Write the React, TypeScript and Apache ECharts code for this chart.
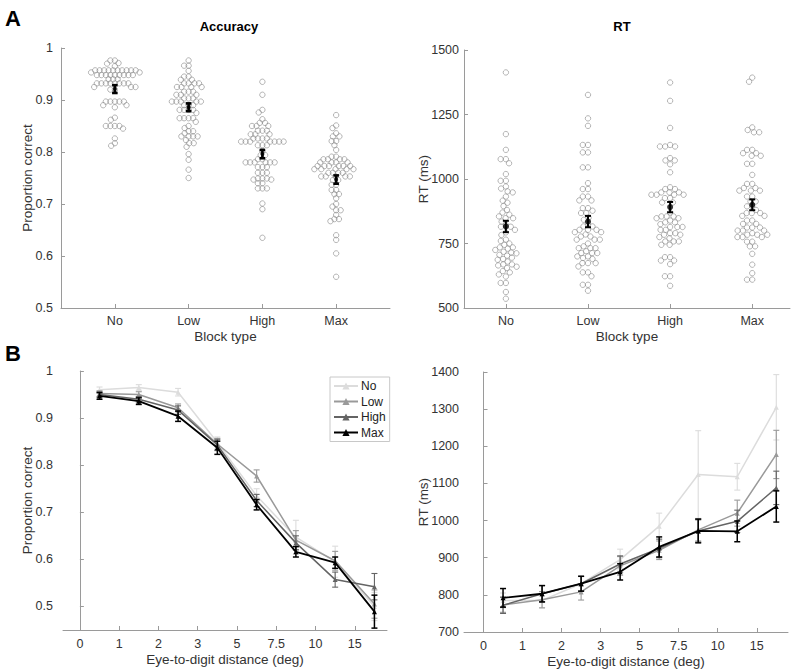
import React, { useEffect, useRef } from "react";
import * as echarts from "echarts";

// ---------- Data ----------
const blockTypes = ["No", "Low", "High", "Max"];

// Panel A: per-participant accuracy (proportion correct)
const accNo = [0.976, 0.976, 0.971, 0.97, 0.965, 0.957, 0.957, 0.957, 0.957, 0.957, 0.957, 0.957, 0.957, 0.957, 0.957,
  0.953, 0.953, 0.948, 0.948, 0.948, 0.948, 0.948, 0.948, 0.948, 0.948, 0.948, 0.94, 0.94, 0.94,
  0.932, 0.932, 0.932, 0.932, 0.932, 0.932, 0.932, 0.932, 0.925, 0.925, 0.925, 0.92, 0.92,
  0.897, 0.897, 0.897, 0.897, 0.897, 0.89, 0.89, 0.886, 0.866, 0.862, 0.85, 0.85, 0.85, 0.85, 0.845, 0.826, 0.817, 0.812];
const accLow = [0.976, 0.966, 0.966, 0.956, 0.945, 0.945, 0.939, 0.939, 0.932, 0.932, 0.932, 0.932,
  0.925, 0.925, 0.925, 0.925, 0.916, 0.916, 0.916, 0.91, 0.91, 0.91, 0.903, 0.903, 0.903,
  0.897, 0.897, 0.897, 0.897, 0.897, 0.89, 0.89, 0.89, 0.881, 0.881, 0.881, 0.881, 0.875,
  0.865, 0.865, 0.865, 0.865, 0.858, 0.85, 0.846, 0.84, 0.84, 0.836, 0.83, 0.83, 0.83, 0.83,
  0.823, 0.817, 0.817, 0.81, 0.796, 0.785, 0.766, 0.75];
const accHigh = [0.935, 0.91, 0.881, 0.876, 0.863, 0.856, 0.856, 0.85, 0.85, 0.85, 0.841, 0.841, 0.841,
  0.834, 0.834, 0.834, 0.826, 0.826, 0.826, 0.826, 0.82, 0.82, 0.82, 0.82, 0.82, 0.82, 0.82,
  0.813, 0.813, 0.813, 0.802, 0.794, 0.794, 0.786, 0.786, 0.78, 0.78, 0.78, 0.78, 0.78, 0.78,
  0.771, 0.771, 0.771, 0.76, 0.76, 0.76, 0.749, 0.749, 0.749, 0.747, 0.747, 0.74, 0.74,
  0.73, 0.73, 0.73, 0.701, 0.69, 0.635];
const accMax = [0.871, 0.851, 0.846, 0.836, 0.83, 0.83, 0.821, 0.821, 0.813, 0.804, 0.791, 0.791,
  0.786, 0.786, 0.786, 0.786, 0.78, 0.78, 0.78, 0.78, 0.773, 0.773, 0.773, 0.773, 0.773, 0.773,
  0.767, 0.767, 0.767, 0.767, 0.767, 0.76, 0.76, 0.76, 0.76, 0.753, 0.753, 0.753, 0.753, 0.753,
  0.746, 0.746, 0.737, 0.737, 0.727, 0.727, 0.719, 0.719, 0.711, 0.7, 0.695, 0.688, 0.688,
  0.679, 0.671, 0.671, 0.667, 0.64, 0.631, 0.605, 0.56];
const accMean = [0.921, 0.886, 0.796, 0.747];
const accSE = [0.0075, 0.0075, 0.008, 0.008];

// Panel A: per-participant RT (ms)
const rtNo = [1413, 1174, 1113, 1077, 1077, 1061, 1019, 993, 993, 971, 963, 952, 948, 932, 916, 908, 895,
  880, 870, 862, 855, 848, 848, 835, 822, 815, 815, 803, 793, 783, 765, 760, 750, 745, 735, 735, 730,
  725, 718, 715, 712, 706, 703, 695, 690, 687, 680, 669, 669, 665, 660, 655, 643, 638, 630, 622,
  597, 597, 562, 536];
const rtLow = [1326, 1235, 1206, 1132, 1132, 1103, 1103, 1045, 1045, 984, 961, 961, 932, 932, 917, 917,
  887, 887, 877, 868, 868, 850, 842, 826, 816, 816, 803, 803, 803, 794, 794, 785, 777, 777, 765, 765,
  765, 750, 739, 732, 732, 732, 720, 713, 713, 713, 700, 700, 694, 690, 674, 674, 674, 661, 638,
  638, 623, 590, 590, 567];
const rtHigh = [1374, 1303, 1198, 1132, 1126, 1126, 1126, 1081, 1072, 1072, 1057, 1026, 968, 961, 961,
  948, 948, 948, 939, 939, 939, 939, 926, 926, 909, 909, 870, 855, 855, 855, 848, 848, 839, 832, 832,
  825, 814, 814, 814, 803, 803, 790, 790, 784, 784, 775, 770, 758, 758, 758, 745, 745, 697, 697,
  684, 684, 670, 623, 623, 586];
const rtMax = [1393, 1377, 1200, 1190, 1181, 1181, 1113, 1113, 1100, 1100, 1090, 1090, 1059, 1059, 1016,
  981, 981, 965, 965, 955, 955, 955, 932, 932, 913, 913, 894, 894, 880, 868, 868, 868, 857, 857, 839,
  839, 826, 826, 812, 812, 812, 800, 800, 800, 790, 784, 784, 784, 775, 775, 775, 757, 757, 739,
  739, 710, 668, 635, 610, 610];
const rtMean = [816, 835, 891, 900];
const rtSE = [22, 22, 20, 21];

// Panel B: eye-to-digit distance bins
const distTickLabels = ["0", "1", "2", "3", "5", "7.5", "10", "15"];
const distBinPos = [0.5, 1.5, 2.5, 3.5, 4.5, 5.5, 6.5, 7.5];

const pcNo = [0.96, 0.965, 0.955, 0.848, 0.735, 0.647, 0.595, 0.5];
const pcNoErr = [0.006, 0.006, 0.008, 0.012, 0.015, 0.036, 0.033, 0.03];
const pcLow = [0.952, 0.95, 0.922, 0.845, 0.777, 0.641, 0.597, 0.505];
const pcLowErr = [0.006, 0.006, 0.008, 0.012, 0.013, 0.02, 0.02, 0.03];
const pcHigh = [0.95, 0.94, 0.917, 0.843, 0.725, 0.635, 0.557, 0.542];
const pcHighErr = [0.006, 0.006, 0.009, 0.012, 0.013, 0.015, 0.016, 0.028];
const pcMax = [0.947, 0.936, 0.904, 0.837, 0.716, 0.616, 0.593, 0.489];
const pcMaxErr = [0.007, 0.007, 0.011, 0.014, 0.011, 0.011, 0.012, 0.035];

const rtdNo = [785, 785, 830, 895, 985, 1124, 1118, 1305];
const rtdNoErr = [20, 20, 20, 28, 35, 118, 36, 88];
const rtdLow = [773, 787, 808, 878, 920, 975, 1020, 1178];
const rtdLowErr = [20, 22, 22, 25, 25, 30, 35, 65];
const rtdHigh = [772, 803, 830, 883, 925, 972, 998, 1088];
const rtdHighErr = [22, 22, 20, 22, 25, 30, 30, 45];
const rtdMax = [792, 803, 830, 862, 929, 972, 971, 1038];
const rtdMaxErr = [25, 22, 20, 22, 27, 32, 28, 42];

const seriesColors = ["#dcdcdc", "#9a9a9a", "#646464", "#000000"];

// ---------- Helpers ----------
const FONT = "Liberation Sans, Arial, Helvetica, sans-serif";

type Grid = { left: number; top: number; width: number; height: number };
const gA1: Grid = { left: 61, top: 48, width: 329, height: 260 };
const gA2: Grid = { left: 464, top: 50, width: 326, height: 258 };
const gB1: Grid = { left: 63, top: 371, width: 324, height: 259 };
const gB2: Grid = { left: 464, top: 372, width: 324, height: 260 };

const xA1 = { min: 0.27, max: 4.73 };
const xA2 = { min: 0.49, max: 4.46 };
const xB1 = { min: -0.43, max: 7.82 };
const xB2 = { min: -0.5, max: 7.8 };

// deterministic beeswarm layout (offsets computed in pixel space, returned in data units)
function swarm(values: number[], center: number, pxX: number, pxY: number, d: number): number[][] {
  const sorted = values.slice().sort((a, b) => b - a);
  const placed: { x: number; y: number }[] = [];
  const out: number[][] = [];
  for (const v of sorted) {
    const y = v * pxY;
    const cands = [0];
    for (const q of placed) {
      const dy = Math.abs(q.y - y);
      if (dy < d) {
        const dx = Math.sqrt(d * d - dy * dy);
        cands.push(q.x + dx, q.x - dx);
      }
    }
    cands.sort((a, b) => Math.abs(a) - Math.abs(b) || a - b);
    let best = 0;
    for (const c of cands) {
      if (placed.every((q) => (q.x - c) ** 2 + (q.y - y) ** 2 >= d * d - 1e-6)) {
        best = c;
        break;
      }
    }
    placed.push({ x: best, y });
    out.push([center + best / pxX, v]);
  }
  return out;
}

function errBarRender(color: string, lw: number, cap: number) {
  return (params: any, api: any) => {
    const x = api.value(0);
    const y = api.value(1);
    const e = api.value(2);
    const t = api.coord([x, y + e]);
    const b = api.coord([x, y - e]);
    const style = { stroke: color, lineWidth: lw, fill: null };
    return {
      type: "group",
      children: [
        { type: "line", shape: { x1: t[0], y1: t[1], x2: b[0], y2: b[1] }, style },
        { type: "line", shape: { x1: t[0] - cap, y1: t[1], x2: t[0] + cap, y2: t[1] }, style },
        { type: "line", shape: { x1: b[0] - cap, y1: b[1], x2: b[0] + cap, y2: b[1] }, style },
      ],
    };
  };
}

const axisLineStyle = { lineStyle: { color: "#9a9a9a", width: 1 } };
const labelStyle = { color: "#333", fontSize: 12.5, fontFamily: FONT };
const nameStyle = { color: "#333", fontSize: 13.5, fontFamily: FONT };
const plain = (v: number) => String(v);

export default function App() {
  const ref = useRef<HTMLDivElement>(null);

  useEffect(() => {
    document.body.style.margin = "0";
    if (!ref.current) return;
    const chart = echarts.init(ref.current, null, { renderer: "svg" });

    const accGroups = [accNo, accLow, accHigh, accMax];
    const rtGroups = [rtNo, rtLow, rtHigh, rtMax];
    const pxXA1 = gA1.width / (xA1.max - xA1.min);
    const pxYA1 = gA1.height / 0.5;
    const pxXA2 = gA2.width / (xA2.max - xA2.min);
    const pxYA2 = gA2.height / 1000;

    const accPts: number[][] = [];
    accGroups.forEach((g, i) => accPts.push(...swarm(g, i + 1, pxXA1, pxYA1, 4.5)));
    const rtPts: number[][] = [];
    rtGroups.forEach((g, i) => rtPts.push(...swarm(g, i + 1, pxXA2, pxYA2, 5.2)));

    const catX = (i: number) => i + 1;

    const pcSeries = [
      { name: "No", v: pcNo, e: pcNoErr },
      { name: "Low", v: pcLow, e: pcLowErr },
      { name: "High", v: pcHigh, e: pcHighErr },
      { name: "Max", v: pcMax, e: pcMaxErr },
    ];
    const rtdSeries = [
      { name: "No", v: rtdNo, e: rtdNoErr },
      { name: "Low", v: rtdLow, e: rtdLowErr },
      { name: "High", v: rtdHigh, e: rtdHighErr },
      { name: "Max", v: rtdMax, e: rtdMaxErr },
    ];

    const series: any[] = [
      {
        type: "scatter",
        xAxisIndex: 0,
        yAxisIndex: 0,
        symbol: "circle",
        symbolSize: 5.4,
        itemStyle: { color: "rgba(0,0,0,0)", borderColor: "#8a8a8a", borderWidth: 0.8 },
        data: accPts,
        silent: true,
        z: 2,
      },
      {
        type: "custom",
        xAxisIndex: 0,
        yAxisIndex: 0,
        renderItem: errBarRender("#000", 2.6, 2.8),
        data: accMean.map((m, i) => [catX(i), m, accSE[i]]),
        z: 5,
      },
      {
        type: "scatter",
        xAxisIndex: 0,
        yAxisIndex: 0,
        symbol: "circle",
        symbolSize: 4,
        itemStyle: { color: "#000" },
        data: accMean.map((m, i) => [catX(i), m]),
        z: 6,
      },
      {
        type: "scatter",
        xAxisIndex: 1,
        yAxisIndex: 1,
        symbol: "circle",
        symbolSize: 5.4,
        itemStyle: { color: "rgba(0,0,0,0)", borderColor: "#8a8a8a", borderWidth: 0.8 },
        data: rtPts,
        silent: true,
        z: 2,
      },
      {
        type: "custom",
        xAxisIndex: 1,
        yAxisIndex: 1,
        renderItem: errBarRender("#000", 2, 3),
        data: rtMean.map((m, i) => [catX(i), m, rtSE[i]]),
        z: 5,
      },
      {
        type: "scatter",
        xAxisIndex: 1,
        yAxisIndex: 1,
        symbol: "circle",
        symbolSize: 6,
        itemStyle: { color: "#000" },
        data: rtMean.map((m, i) => [catX(i), m]),
        z: 6,
      },
    ];

    const addLines = (defs: { name: string; v: number[]; e: number[] }[], axis: number) => {
      defs.forEach((s, k) => {
        const color = seriesColors[k];
        const lw = k === 3 ? 1.8 : 1.5;
        series.push({
          type: "custom",
          xAxisIndex: axis,
          yAxisIndex: axis,
          renderItem: errBarRender(color, k === 3 ? 1.5 : 1.1, 3),
          data: s.v.map((val, i) => [distBinPos[i], val, s.e[i]]),
          z: 3 + k,
        });
        series.push({
          type: "line",
          name: s.name,
          xAxisIndex: axis,
          yAxisIndex: axis,
          symbol: "triangle",
          symbolSize: 5,
          showSymbol: true,
          color,
          lineStyle: { color, width: lw },
          itemStyle: { color },
          data: s.v.map((val, i) => [distBinPos[i], val]),
          z: 3 + k,
        });
      });
    };
    addLines(pcSeries, 2);
    addLines(rtdSeries, 3);

    const catAxis = (idx: number, range: { min: number; max: number }) => ({
      type: "value",
      gridIndex: idx,
      min: range.min,
      max: range.max,
      name: "Block type",
      nameLocation: "middle",
      nameGap: 21,
      nameMoveOverlap: false,
      nameTextStyle: nameStyle,
      axisLine: axisLineStyle,
      axisTick: { inside: true, length: 4, lineStyle: { color: "#9a9a9a" }, customValues: [1, 2, 3, 4] },
      axisLabel: {
        ...labelStyle,
        margin: 6,
        customValues: [1, 2, 3, 4],
        formatter: (v: number) => blockTypes[Math.round(v) - 1] ?? "",
      },
      splitLine: { show: false },
    });

    const distAxis = (idx: number, range: { min: number; max: number }) => ({
      type: "value",
      gridIndex: idx,
      min: range.min,
      max: range.max,
      name: "Eye-to-digit distance (deg)",
      nameLocation: "middle",
      nameGap: 22,
      nameMoveOverlap: false,
      nameTextStyle: nameStyle,
      axisLine: axisLineStyle,
      axisTick: { inside: true, length: 4, lineStyle: { color: "#9a9a9a" }, customValues: [0, 1, 2, 3, 4, 5, 6, 7] },
      axisLabel: {
        ...labelStyle,
        margin: 7,
        customValues: [0, 1, 2, 3, 4, 5, 6, 7],
        formatter: (v: number) => distTickLabels[Math.round(v)] ?? "",
      },
      splitLine: { show: false },
    });

    const option: any = {
      animation: false,
      backgroundColor: "#ffffff",
      textStyle: { fontFamily: FONT },
      grid: [gA1, gA2, gB1, gB2].map((g) => ({ ...g, containLabel: false })),
      legend: {
        data: ["No", "Low", "High", "Max"],
        orient: "vertical",
        left: 330,
        top: 377,
        padding: [3, 4, 3, 3],
        itemGap: 3.5,
        itemWidth: 24,
        itemHeight: 9,
        borderColor: "#c8c8c8",
        borderWidth: 1,
        backgroundColor: "#fff",
        textStyle: { color: "#222", fontSize: 12, fontFamily: FONT, padding: [0, 0, 0, -2] },
        selectedMode: false,
      },
      xAxis: [catAxis(0, xA1), catAxis(1, xA2), distAxis(2, xB1), distAxis(3, xB2)],
      yAxis: [
        {
          type: "value",
          gridIndex: 0,
          min: 0.5,
          max: 1,
          interval: 0.1,
          name: "Proportion correct",
          nameLocation: "middle",
          nameGap: 27,
          nameMoveOverlap: false,
          nameTextStyle: nameStyle,
          axisLine: { show: true, ...axisLineStyle },
          axisTick: { show: true, inside: true, length: 4, lineStyle: { color: "#9a9a9a" } },
          axisLabel: { ...labelStyle, margin: 8, formatter: (v: number) => String(+v.toFixed(1)) },
          splitLine: { show: false },
        },
        {
          type: "value",
          gridIndex: 1,
          min: 500,
          max: 1500,
          interval: 250,
          name: "RT (ms)",
          nameLocation: "middle",
          nameGap: 34,
          nameMoveOverlap: false,
          nameTextStyle: nameStyle,
          axisLine: { show: true, ...axisLineStyle },
          axisTick: { show: true, inside: true, length: 4, lineStyle: { color: "#9a9a9a" } },
          axisLabel: { ...labelStyle, margin: 5, formatter: plain },
          splitLine: { show: false },
        },
        {
          type: "value",
          gridIndex: 2,
          min: 0.45,
          max: 1,
          name: "Proportion correct",
          nameLocation: "middle",
          nameGap: 29,
          nameMoveOverlap: false,
          nameTextStyle: nameStyle,
          axisLine: { show: true, ...axisLineStyle },
          axisTick: {
            show: true,
            inside: true,
            length: 4,
            lineStyle: { color: "#9a9a9a" },
            customValues: [0.5, 0.6, 0.7, 0.8, 0.9, 1],
          },
          axisLabel: {
            ...labelStyle,
            margin: 10,
            customValues: [0.5, 0.6, 0.7, 0.8, 0.9, 1],
            formatter: (v: number) => String(+v.toFixed(1)),
          },
          splitLine: { show: false },
        },
        {
          type: "value",
          gridIndex: 3,
          min: 700,
          max: 1400,
          interval: 100,
          name: "RT (ms)",
          nameLocation: "middle",
          nameGap: 34,
          nameMoveOverlap: false,
          nameTextStyle: nameStyle,
          axisLine: { show: true, ...axisLineStyle },
          axisTick: { show: true, inside: true, length: 4, lineStyle: { color: "#9a9a9a" } },
          axisLabel: { ...labelStyle, margin: 5, formatter: plain },
          splitLine: { show: false },
        },
      ],
      graphic: [
        { type: "text", x: 229, y: 26, style: { text: "Accuracy", font: `bold 13px ${FONT}`, fill: "#000", align: "center", verticalAlign: "middle" } },
        { type: "text", x: 622, y: 26, style: { text: "RT", font: `bold 13px ${FONT}`, fill: "#000", align: "center", verticalAlign: "middle" } },
        { type: "text", x: 13, y: 18, style: { text: "A", font: `bold 22px ${FONT}`, fill: "#000", align: "center", verticalAlign: "middle" } },
        { type: "text", x: 13, y: 353, style: { text: "B", font: `bold 22px ${FONT}`, fill: "#000", align: "center", verticalAlign: "middle" } },
      ],
      series,
    };

    chart.setOption(option);
    return () => chart.dispose();
  }, []);

  return <div ref={ref} style={{ width: 800, height: 671 }} />;
}
